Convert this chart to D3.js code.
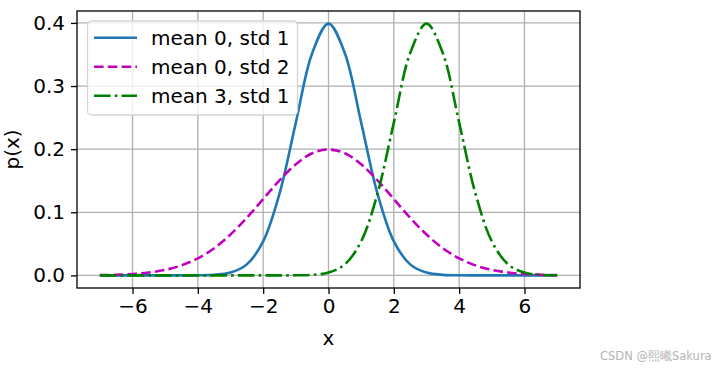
<!DOCTYPE html>
<html>
<head>
<meta charset="utf-8">
<script src="https://cdn.jsdelivr.net/npm/d3@7"></script>
<style>
  html, body { margin: 0; padding: 0; background: #fff; }
  svg { display: block; }
  text { font-family: "DejaVu Sans", sans-serif; fill: #000; }
</style>
</head>
<body>
<svg id="chart" width="727" height="369"></svg>
<script>
// ---- data ----
const xValues = [-7,-6.5,-6,-5.5,-5,-4.5,-4,-3.5,-3,-2.5,-2,-1.5,-1,-0.5,0,0.5,1,1.5,2,2.5,3,3.5,4,4.5,5,5.5,6,6.5,7];
const mean0std1 = [0,0,0,0.0000001,0.0000015,0.000016,0.000134,0.00087,0.00443,0.0175,0.0540,0.1295,0.2420,0.3521,0.3989,0.3521,0.2420,0.1295,0.0540,0.0175,0.00443,0.00087,0.000134,0.000016,0.0000015,0.0000001,0,0,0];
const mean0std2 = [0.00044,0.00102,0.00222,0.00454,0.00876,0.0159,0.0270,0.0431,0.0648,0.0913,0.1210,0.1506,0.1760,0.1935,0.1995,0.1935,0.1760,0.1506,0.1210,0.0913,0.0648,0.0431,0.0270,0.0159,0.00876,0.00454,0.00222,0.00102,0.00044];
const mean3std1 = [0,0,0,0,0,0,0,0,0,0,0.0000015,0.000016,0.000134,0.00087,0.00443,0.0175,0.0540,0.1295,0.2420,0.3521,0.3989,0.3521,0.2420,0.1295,0.0540,0.0175,0.00443,0.00087,0.000134];
const seriesLabels = ["mean 0, std 1", "mean 0, std 2", "mean 3, std 1"];
const xTicks = [-6,-4,-2,0,2,4,6];
const yTicks = [0,0.1,0.2,0.3,0.4];
const xLabel = "x";
const yLabel = "p(x)";
const watermark = "CSDN @熙曦Sakura";

// ---- layout ----
const svg = d3.select("#chart");
const L = 77, R = 580, T = 11, B = 288;
const FS = 20;

const x = d3.scaleLinear().domain([-7.7, 7.7]).range([L, R]);
const y = d3.scaleLinear().domain([-0.01995, 0.41889]).range([B, T]);

const series = [
  {name: seriesLabels[0], values: mean0std1, color: "#1f77b4", dash: null},
  {name: seriesLabels[1], values: mean0std2, color: "#bf00bf", dash: "9.6,4.2"},
  {name: seriesLabels[2], values: mean3std1, color: "#008000", dash: "16.6,4.2,2.6,4.2"}
];

// grid
const grid = svg.append("g");
grid.selectAll("line.gx").data(xTicks).join("line")
  .attr("x1", d => x(d)).attr("x2", d => x(d)).attr("y1", T).attr("y2", B)
  .attr("stroke", "#b0b0b0").attr("stroke-width", 1.3);
grid.selectAll("line.gy").data(yTicks).join("line")
  .attr("y1", d => y(d)).attr("y2", d => y(d)).attr("x1", L).attr("x2", R)
  .attr("stroke", "#b0b0b0").attr("stroke-width", 1.3);

// lines
const line = d3.line().curve(d3.curveCatmullRom.alpha(0.5));
series.forEach(s => {
  const pts = xValues.map((xv, i) => [x(xv), y(s.values[i])]);
  svg.append("path").attr("d", line(pts))
    .attr("fill", "none").attr("stroke", s.color).attr("stroke-width", 2.6)
    .attr("stroke-dasharray", s.dash);
});

// axes
const fmtX = d => (d < 0 ? "\u2212" + Math.abs(d) : String(d));
const xAxis = d3.axisBottom(x).tickValues(xTicks).tickFormat(fmtX).tickSize(6).tickPadding(5);
const gx = svg.append("g").attr("transform", `translate(0,${B})`).call(xAxis);
const yAxis = d3.axisLeft(y).tickValues(yTicks).tickFormat(d3.format(".1f")).tickSize(6).tickPadding(6);
const gy = svg.append("g").attr("transform", `translate(${L},0)`).call(yAxis);
[gx, gy].forEach(g => {
  g.select(".domain").remove();
  g.selectAll(".tick line").attr("stroke", "#000").attr("stroke-width", 1.3);
  g.selectAll(".tick text").attr("font-size", FS).attr("font-family", "DejaVu Sans").attr("fill", "#000");
});

// frame
svg.append("rect").attr("x", L).attr("y", T).attr("width", R - L).attr("height", B - T)
  .attr("fill", "none").attr("stroke", "#000").attr("stroke-width", 1.3);

// axis labels
svg.append("text").attr("x", (L + R) / 2).attr("y", 345).attr("text-anchor", "middle")
  .attr("font-size", FS).text(xLabel);
svg.append("text").attr("transform", `translate(19,${(T + B) / 2}) rotate(-90)`)
  .attr("text-anchor", "middle").attr("font-size", FS).text(yLabel);

// legend
const lg = svg.append("g");
lg.append("rect").attr("x", 87.5).attr("y", 21).attr("width", 210).attr("height", 94)
  .attr("rx", 4).attr("fill", "#fff").attr("fill-opacity", 0.8)
  .attr("stroke", "#d5d5d5").attr("stroke-width", 1.3);
series.forEach((s, i) => {
  const ly = 37.7 + i * 29;
  lg.append("line").attr("x1", 94).attr("x2", 137).attr("y1", ly).attr("y2", ly)
    .attr("stroke", s.color).attr("stroke-width", 2.6).attr("stroke-dasharray", s.dash);
  lg.append("text").attr("x", 151).attr("y", ly + 7).attr("font-size", FS).text(s.name);
});

// watermark
svg.append("text").attr("x", 600).attr("y", 360).attr("font-size", 11.5)
  .attr("font-family", "'Noto Sans CJK SC', sans-serif").style("fill", "#b4b4b4").text(watermark);
</script>
</body>
</html>
